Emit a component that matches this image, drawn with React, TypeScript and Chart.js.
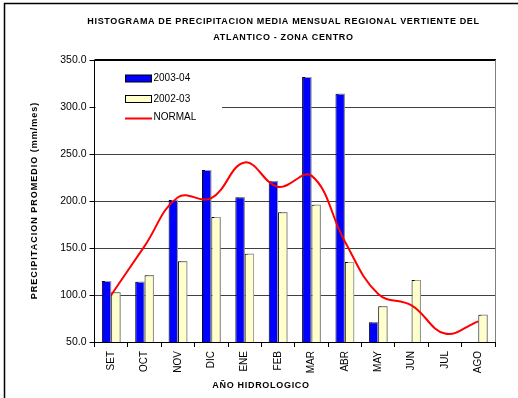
import React, { useEffect, useRef } from 'react';
import { Chart, registerables } from 'chart.js';

Chart.register(...registerables);

const months = ['SET', 'OCT', 'NOV', 'DIC', 'ENE', 'FEB', 'MAR', 'ABR', 'MAY', 'JUN', 'JUL', 'AGO'];
const serie2003_04 = [115, 114, 201, 233, 204, 221, 332, 314, 71, null, null, null];
const serie2002_03 = [103, 121, 136, 183, 144, 188, 196, 135, 88, 116, null, 79];
const normal = [100, 152, 204, 203, 241, 215, 227, 157, 101, 89, 59, 72];
const yMin = 50;
const yMax = 350;
const yStep = 50;
const titleLines = [
  'HISTOGRAMA DE PRECIPITACION MEDIA MENSUAL REGIONAL VERTIENTE DEL',
  'ATLANTICO - ZONA CENTRO',
];
const yTitle = 'PRECIPITACION PROMEDIO (mm/mes)';
const xTitle = 'AÑO HIDROLOGICO';
const legendItems = [
  { label: '2003-04', kind: 'box', color: '#0000FF' },
  { label: '2002-03', kind: 'box', color: '#FFFFCC' },
  { label: 'NORMAL', kind: 'line', color: '#FF0000' },
];

const FONT = '"Liberation Sans", Arial, sans-serif';

function setSpacing(ctx: any, v: string) {
  try {
    ctx.letterSpacing = v;
  } catch (e) {
    /* ignore */
  }
}

const barShadow = {
  id: 'barShadow',
  beforeDatasetDraw(chart: any, args: any) {
    if (args.meta.type !== 'bar') return;
    const ctx = chart.ctx;
    ctx.save();
    ctx.shadowColor = '#a0a0a0';
    ctx.shadowOffsetX = 2;
    ctx.shadowOffsetY = -1;
    ctx.shadowBlur = 0;
  },
  afterDatasetDraw(chart: any, args: any) {
    if (args.meta.type !== 'bar') return;
    chart.ctx.restore();
  },
};

const decor = {
  id: 'decor',
  afterDraw(chart: any) {
    const ctx = chart.ctx;
    const ca = chart.chartArea;
    ctx.save();

    // outer frame (left and top)
    ctx.strokeStyle = '#000';
    ctx.lineWidth = 1.5;
    ctx.beginPath();
    ctx.moveTo(4.5, 398);
    ctx.lineTo(4.5, 3.5);
    ctx.lineTo(518, 3.5);
    ctx.stroke();

    // plot area top border and right border
    ctx.strokeStyle = '#000';
    ctx.lineWidth = 2;
    ctx.beginPath();
    ctx.moveTo(ca.left, ca.top);
    ctx.lineTo(ca.right + 1, ca.top);
    ctx.stroke();
    ctx.strokeStyle = '#808080';
    ctx.lineWidth = 1;
    ctx.beginPath();
    ctx.moveTo(ca.right + 0.5, ca.top);
    ctx.lineTo(ca.right + 0.5, ca.bottom);
    ctx.stroke();

    // title
    ctx.fillStyle = '#000';
    ctx.textAlign = 'center';
    ctx.textBaseline = 'middle';
    ctx.font = 'bold 9px ' + FONT;
    setSpacing(ctx, '0.65px');
    ctx.fillText(titleLines[0], 283.5, 22);
    ctx.fillText(titleLines[1], 283.5, 38);

    // x axis title
    setSpacing(ctx, '0.7px');
    ctx.fillText(xTitle, 261, 386);

    // y axis title
    setSpacing(ctx, '1px');
    ctx.save();
    ctx.translate(35, 200.5);
    ctx.rotate(-Math.PI / 2);
    ctx.fillText(yTitle, 0, 0);
    ctx.restore();
    setSpacing(ctx, '0px');

    // legend
    ctx.fillStyle = '#fff';
    ctx.fillRect(ca.left + 1, 63, 222 - ca.left - 1, 65);
    const rows = [78.5, 99, 117.5];
    ctx.font = '10px ' + FONT;
    ctx.textAlign = 'left';
    legendItems.forEach((it, i) => {
      const y = rows[i];
      if (it.kind === 'box') {
        ctx.fillStyle = it.color;
        ctx.fillRect(125.5, y - 3.5, 26, 7);
        ctx.strokeStyle = '#000';
        ctx.lineWidth = 1;
        ctx.strokeRect(125.5, y - 3.5, 26, 7);
      } else {
        ctx.strokeStyle = it.color;
        ctx.lineWidth = 2;
        ctx.beginPath();
        ctx.moveTo(125, y + 1);
        ctx.lineTo(152, y + 1);
        ctx.stroke();
      }
      ctx.fillStyle = '#000';
      ctx.fillText(it.label, 153.5, y);
    });

    ctx.restore();
  },
};

export default function App() {
  const ref = useRef<HTMLCanvasElement | null>(null);

  useEffect(() => {
    if (!ref.current) return;
    const chart = new Chart(ref.current, {
      type: 'bar',
      data: {
        labels: months,
        datasets: [
          {
            type: 'line',
            label: 'NORMAL',
            data: normal,
            borderColor: '#FF0000',
            borderWidth: 2,
            pointRadius: 0,
            tension: 0.4,
            fill: false,
            order: 0,
          } as any,
          {
            type: 'bar',
            label: '2003-04',
            data: serie2003_04,
            backgroundColor: '#0000FF',
            borderColor: '#000',
            borderWidth: 1,
            categoryPercentage: 0.56,
            barPercentage: 1,
            order: 1,
          },
          {
            type: 'bar',
            label: '2002-03',
            data: serie2002_03,
            backgroundColor: '#FFFFCC',
            borderColor: '#000',
            borderWidth: 1,
            categoryPercentage: 0.56,
            barPercentage: 1,
            order: 1,
          },
        ],
      },
      options: {
        responsive: false,
        animation: false,
        events: [],
        layout: { padding: { top: 60, right: 23, bottom: 16, left: 0 } },
        plugins: {
          legend: { display: false },
          title: { display: false },
          tooltip: { enabled: false },
        },
        scales: {
          x: {
            type: 'category',
            offset: true,
            grid: {
              offset: true,
              drawOnChartArea: false,
              drawTicks: true,
              tickLength: 5,
              color: '#000',
            },
            border: { color: '#000', width: 1 },
            ticks: {
              minRotation: 90,
              maxRotation: 90,
              autoSkip: false,
              padding: 4,
              color: '#000',
              font: { family: FONT, size: 10 },
            },
            afterFit: (s: any) => {
              s.height = 40;
            },
          },
          y: {
            min: yMin,
            max: yMax,
            ticks: {
              stepSize: yStep,
              color: '#000',
              padding: 3,
              font: { family: FONT, size: 10.5 },
              callback: (v: any) => Number(v).toFixed(1),
            },
            grid: {
              color: (c: any) => (c.tick && c.tick.value === yMax ? 'rgba(0,0,0,0)' : '#404040'),
              tickColor: '#000',
              tickLength: 5,
              lineWidth: 1,
            },
            border: { color: '#000', width: 1 },
            afterFit: (s: any) => {
              s.width = 94.5;
            },
          },
        },
      },
      plugins: [barShadow, decor],
    });
    return () => chart.destroy();
  }, []);

  return (
    <div style={{ position: 'fixed', left: 0, top: 0, width: 518, height: 398, background: '#fff' }}>
      <canvas ref={ref} width={518} height={398} style={{ display: 'block' }} />
    </div>
  );
}
